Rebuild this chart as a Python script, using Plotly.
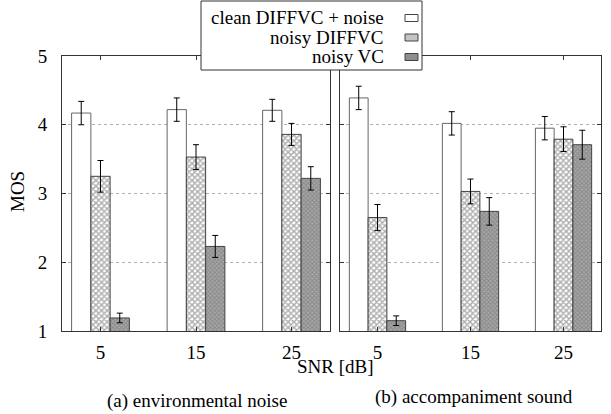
import plotly.graph_objects as go

snr = ["5", "15", "25"]
series_names = ["clean DIFFVC + noise", "noisy DIFFVC", "noisy VC"]

env_clean = [4.17, 4.22, 4.21]
env_diffvc = [3.25, 3.53, 3.86]
env_vc = [1.19, 2.23, 3.22]
env_clean_err = [0.17, 0.17, 0.16]
env_diffvc_err = [0.23, 0.18, 0.16]
env_vc_err = [0.07, 0.16, 0.17]

acc_clean = [4.39, 4.02, 3.95]
acc_diffvc = [2.65, 3.03, 3.79]
acc_vc = [1.15, 2.74, 3.71]
acc_clean_err = [0.17, 0.17, 0.17]
acc_diffvc_err = [0.19, 0.18, 0.18]
acc_vc_err = [0.07, 0.20, 0.21]

y_ticks = [1, 2, 3, 4, 5]
captions = ["(a) environmental noise", "(b) accompaniment sound"]

FONT = "Liberation Serif, Times New Roman, DejaVu Serif, serif"
W, H = 611, 414

styles = [
    dict(color="white", line=dict(color="#666", width=1)),
    dict(color="white", line=dict(color="#444", width=1),
         pattern=dict(shape="x", size=4, solidity=0.6, fgcolor="#5a5a5a", bgcolor="white")),
    dict(color="#999", line=dict(color="#444", width=1),
         pattern=dict(shape="x", size=3, solidity=0.5, fgcolor="#666666", bgcolor="#a8a8a8")),
]
swatch_fill = ["white", "#c4c4c4", "#8e8e8e"]

fig = go.Figure()
panels = [
    ([env_clean, env_diffvc, env_vc], [env_clean_err, env_diffvc_err, env_vc_err], "x", "y"),
    ([acc_clean, acc_diffvc, acc_vc], [acc_clean_err, acc_diffvc_err, acc_vc_err], "x2", "y2"),
]
for vals, errs, xa, ya in panels:
    for i in range(3):
        fig.add_trace(go.Bar(
            x=snr, y=vals[i], name=series_names[i], showlegend=False,
            marker=styles[i], xaxis=xa, yaxis=ya,
            error_y=dict(type="data", array=errs[i], color="black", thickness=1, width=3),
        ))

def px(x):
    return x / W

def py(y):
    return 1 - y / H

axis_common = dict(
    showline=True, linecolor="#333", linewidth=1, mirror="allticks",
    ticks="inside", ticklen=4, tickcolor="#333", automargin=False,
    tickfont=dict(family=FONT, size=19, color="black"),
)
fig.update_layout(
    width=W, height=H, autosize=False,
    margin=dict(l=0, r=0, t=0, b=0, pad=0),
    paper_bgcolor="white", plot_bgcolor="white",
    barmode="group", bargap=0.395, bargroupgap=0,
    showlegend=False,
    xaxis=dict(domain=[px(62), px(330)], type="category", range=[-0.403, 2.403],
               anchor="y", ticklabelstandoff=4, **axis_common),
    xaxis2=dict(domain=[px(340), px(601)], type="category", range=[-0.403, 2.403],
                anchor="y2", ticklabelstandoff=4, **axis_common),
    yaxis=dict(domain=[py(331), py(56)], range=[1, 5], tickvals=y_ticks,
               showgrid=True, gridcolor="#b0b0b0", griddash="dot", gridwidth=1,
               anchor="x", ticklabelstandoff=10, **axis_common),
    yaxis2=dict(domain=[py(331), py(56)], range=[1, 5], tickvals=y_ticks, showticklabels=False,
                showgrid=True, gridcolor="#b0b0b0", griddash="dot", gridwidth=1,
                anchor="x2", **axis_common),
)

def label(text, x, y, xanchor="center", angle=0):
    fig.add_annotation(text=text, x=px(x), y=py(y), xref="paper", yref="paper",
                       xanchor=xanchor, yanchor="middle", textangle=angle,
                       showarrow=False, font=dict(family=FONT, size=19, color="black"))

label("MOS", 17, 192, angle=-90)
label("SNR [dB]", 335, 366)
label(captions[0], 197, 401)
label(captions[1], 474, 397)

# manual legend (text right-aligned, swatch on the right)
fig.add_shape(type="rect", xref="paper", yref="paper",
              x0=px(201), x1=px(422), y0=py(70), y1=py(1),
              fillcolor="white", line=dict(color="#333", width=1), layer="above")
row_y = [18, 37.5, 57]
for i, name in enumerate(series_names):
    label(name, 386, row_y[i], xanchor="right")
    fig.add_shape(type="rect", xref="paper", yref="paper",
                  x0=px(405), x1=px(418), y0=py(row_y[i] + 3.5), y1=py(row_y[i] - 3.5),
                  fillcolor=swatch_fill[i], line=dict(color="#444", width=1), layer="above")

fig.write_html("out.html", config={"displayModeBar": False},
               post_script="document.body.style.margin='0';")
